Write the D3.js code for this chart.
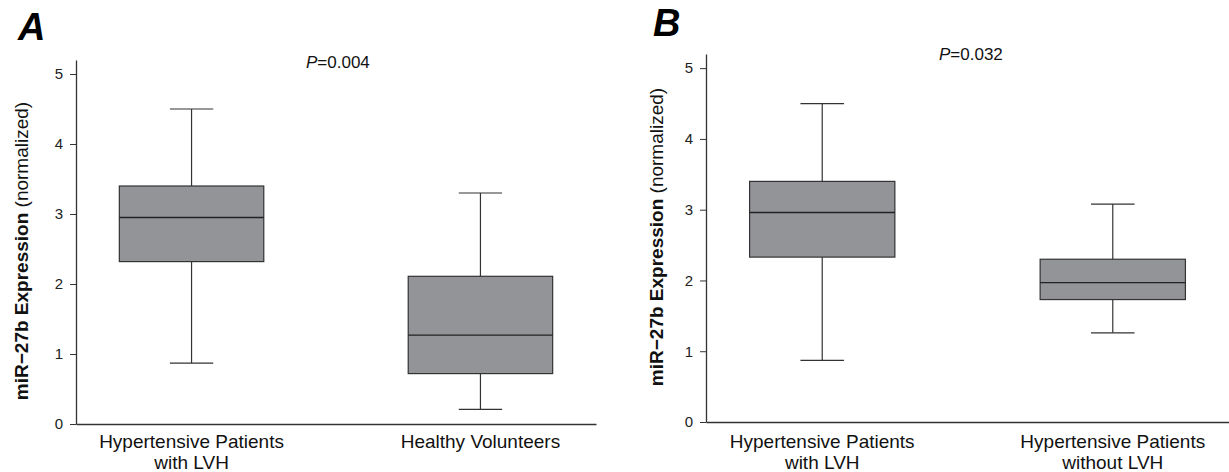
<!DOCTYPE html>
<html>
<head>
<meta charset="utf-8">
<script src="https://cdnjs.cloudflare.com/ajax/libs/d3/7.8.5/d3.min.js"></script>
<style>
  body { margin: 0; background: #fff; }
  svg { display: block; font-family: "Liberation Sans", Arial, sans-serif; }
  .tick text { font-size: 15px; fill: #222; }
</style>
</head>
<body>
<script>
//box plots of miR-27b expression, two panels

//data: [low whisker, Q1, median, Q3, high whisker]
var catsA = [["Hypertensive Patients", "with LVH"], ["Healthy Volunteers"]];
var boxA = [[0.87, 2.32, 2.95, 3.40, 4.50], [0.21, 0.72, 1.27, 2.11, 3.30]];
var pA = "0.004";

var catsB = [["Hypertensive Patients", "with LVH"], ["Hypertensive Patients", "without LVH"]];
var boxB = [[0.87, 2.33, 2.96, 3.40, 4.50], [1.26, 1.73, 1.97, 2.30, 3.08]];
var pB = "0.032";

var yTicks = [0, 1, 2, 3, 4, 5];

var svg = d3.select("body").append("svg")
    .attr("width", 1229)
    .attr("height", 472);

//panel settings
var panels = [
    {letter: "A", cats: catsA, boxes: boxA, p: pA,
     left: 76, right: 596, bottom: 424, top: 60,
     letterX: 18, letterY: 40, pX: 306, pY: 68, labelX: 28, labelY: 251},
    {letter: "B", cats: catsB, boxes: boxB, p: pB,
     left: 706, right: 1229, bottom: 422, top: 54,
     letterX: 653, letterY: 36, pX: 939, pY: 60, labelX: 663, labelY: 237}
];

panels.forEach(drawPanel);

function drawPanel(pn){
    var g = svg.append("g");

    var y = d3.scaleLinear()
        .domain([0, 5.2])
        .range([pn.bottom, pn.top]);

    var x = d3.scaleBand()
        .domain(d3.range(pn.boxes.length))
        .range([pn.left, pn.right])
        .paddingInner(0.5)
        .paddingOuter(0.15);

    //y axis
    var yAxis = d3.axisLeft(y)
        .tickValues(yTicks)
        .tickFormat(d3.format("d"))
        .tickSize(6)
        .tickSizeOuter(0)
        .tickPadding(7);

    g.append("g")
        .attr("transform", "translate(" + pn.left + ",0)")
        .call(yAxis)
        .call(function(a){
            a.select(".domain").attr("stroke", "#333").attr("stroke-width", 1.3);
            a.selectAll(".tick line").attr("stroke", "#333");
        });

    //x axis, line only
    var xAxis = d3.axisBottom(x)
        .tickSize(0)
        .tickSizeOuter(0)
        .tickFormat("");

    g.append("g")
        .attr("transform", "translate(0," + pn.bottom + ")")
        .call(xAxis)
        .call(function(a){
            a.select(".domain").attr("stroke", "#333").attr("stroke-width", 1.3);
        });

    //boxes
    var bw = x.bandwidth();
    var boxes = g.selectAll(".box")
        .data(pn.boxes)
        .enter()
        .append("g")
        .attr("class", "box");

    //whiskers
    boxes.append("line")
        .attr("x1", function(d, i){ return x(i) + bw / 2; })
        .attr("x2", function(d, i){ return x(i) + bw / 2; })
        .attr("y1", function(d){ return y(d[0]); })
        .attr("y2", function(d){ return y(d[4]); })
        .attr("stroke", "#333")
        .attr("stroke-width", 1.2);

    //caps
    [0, 4].forEach(function(k){
        boxes.append("line")
            .attr("x1", function(d, i){ return x(i) + bw * 0.35; })
            .attr("x2", function(d, i){ return x(i) + bw * 0.65; })
            .attr("y1", function(d){ return y(d[k]); })
            .attr("y2", function(d){ return y(d[k]); })
            .attr("stroke", "#333")
            .attr("stroke-width", 1.2);
    });

    boxes.append("rect")
        .attr("x", function(d, i){ return x(i); })
        .attr("y", function(d){ return y(d[3]); })
        .attr("width", bw)
        .attr("height", function(d){ return y(d[1]) - y(d[3]); })
        .attr("fill", "#939498")
        .attr("stroke", "#333")
        .attr("stroke-width", 1.2);

    //median
    boxes.append("line")
        .attr("x1", function(d, i){ return x(i); })
        .attr("x2", function(d, i){ return x(i) + bw; })
        .attr("y1", function(d){ return y(d[2]); })
        .attr("y2", function(d){ return y(d[2]); })
        .attr("stroke", "#222")
        .attr("stroke-width", 1.4);

    //category labels
    var labels = g.selectAll(".catLabel")
        .data(pn.cats)
        .enter()
        .append("text")
        .attr("class", "catLabel")
        .attr("text-anchor", "middle")
        .attr("font-size", "19px")
        .attr("fill", "#111");

    labels.selectAll("tspan")
        .data(function(d, i){ return d.map(function(t){ return {t: t, i: i}; }); })
        .enter()
        .append("tspan")
        .attr("x", function(d){ return x(d.i) + bw / 2; })
        .attr("y", function(d, j){ return 448 + j * 21; })
        .text(function(d){ return d.t; });

    //panel letter
    g.append("text")
        .attr("x", pn.letterX)
        .attr("y", pn.letterY)
        .attr("font-size", "38px")
        .attr("font-weight", "bold")
        .attr("font-style", "italic")
        .attr("fill", "#000")
        .text(pn.letter);

    //P value
    var pt = g.append("text")
        .attr("x", pn.pX)
        .attr("y", pn.pY)
        .attr("font-size", "17px")
        .attr("fill", "#111");
    pt.append("tspan").attr("font-style", "italic").text("P");
    pt.append("tspan").text("=" + pn.p);

    //y axis label
    var yl = g.append("text")
        .attr("transform", "translate(" + pn.labelX + "," + pn.labelY + ") rotate(-90)")
        .attr("text-anchor", "middle")
        .attr("font-size", "19px")
        .attr("fill", "#111");
    yl.append("tspan").attr("font-weight", "bold").text("miR\u221227b Expression");
    yl.append("tspan").text(" (normalized)");
}
</script>
</body>
</html>
